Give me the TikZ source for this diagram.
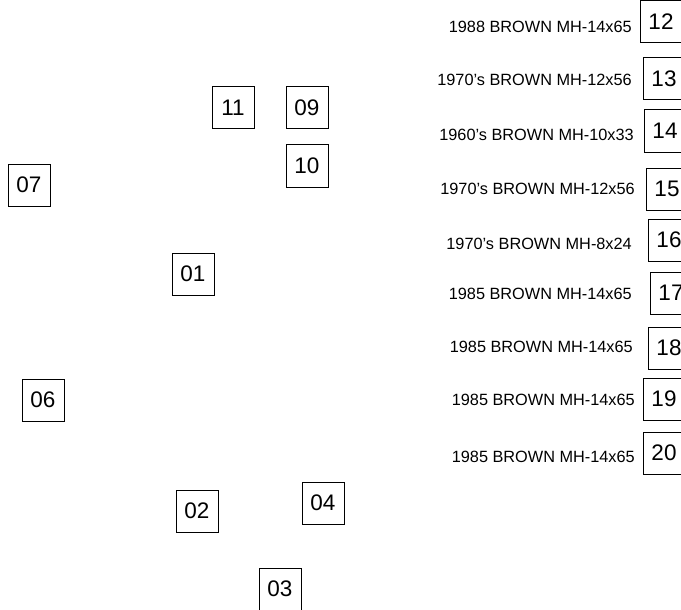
\documentclass[tikz,border=0pt]{standalone}
\usepackage{fontspec}
\setmainfont{Liberation Sans}
\usepackage{tikz}
\usetikzlibrary{positioning}

\begin{document}
\begin{tikzpicture}[x=1pt,y=-1pt,
    tag/.style={draw,line width=1pt,minimum width=42pt,minimum height=42pt,inner sep=0pt,font=\fontsize{22.5}{22}\selectfont},
    lbl/.style={anchor=east,inner sep=0pt,font=\fontsize{16.3}{17}\selectfont}]
        \useasboundingbox (0,0) rectangle (681,610);
        \clip (0,0) rectangle (681,610);
        \node[tag] (b11) at (233,108) {11};
        \node[tag] (b09) at (307,108) {09};
        \node[tag] (b10) at (307,166) {10};
        \node[tag] (b07) at (29,185) {07};
        \node[tag] (b01) at (193,274) {01};
        \node[tag] (b06) at (43,400) {06};
        \node[tag] (b02) at (197,511) {02};
        \node[tag] (b04) at (323,503) {04};
        \node[tag] (b03) at (280,589) {03};
        \node[tag] (b12) at (661,22) {12};
        \node[tag] (b13) at (664,79) {13};
        \node[tag] (b14) at (665,131) {14};
        \node[tag] (b15) at (667,189) {15};
        \node[tag] (b16) at (669,240) {16};
        \node[tag] (b17) at (671,293) {17};
        \node[tag] (b18) at (669,348) {18};
        \node[tag] (b19) at (664,399) {19};
        \node[tag] (b20) at (664,453) {20};
        \node[lbl] (l12) at (632,27) {1988 BROWN MH-14x65};
        \node[lbl] (l13) at (632,80) {1970's BROWN MH-12x56};
        \node[lbl] (l14) at (634,135) {1960's BROWN MH-10x33};
        \node[lbl] (l15) at (635,189) {1970's BROWN MH-12x56};
        \node[lbl] (l16) at (632,244) {1970's BROWN MH-8x24};
        \node[lbl] (l17) at (632,294) {1985 BROWN MH-14x65};
        \node[lbl] (l18) at (633,347) {1985 BROWN MH-14x65};
        \node[lbl] (l19) at (635,400) {1985 BROWN MH-14x65};
        \node[lbl] (l20) at (635,457) {1985 BROWN MH-14x65};
    \end{tikzpicture}
\end{document}
